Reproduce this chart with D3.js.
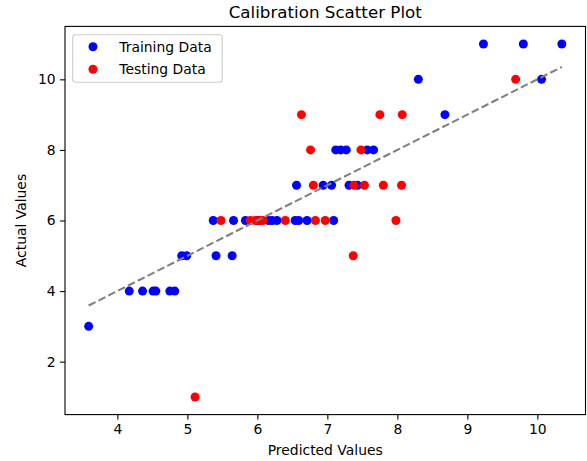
<!DOCTYPE html>
<html>
<head>
<meta charset="utf-8">
<script src="https://cdn.jsdelivr.net/npm/d3@7"></script>
<style>
  body { margin: 0; background: #fff; }
  text { font-family: "DejaVu Sans", sans-serif; fill: #000; }
</style>
</head>
<body>
<div id="chart"></div>
<script>
// training set (blue)
var trainPred = [3.59, 4.17, 4.36, 4.51, 4.55, 4.75, 4.82, 4.92, 4.99, 5.41, 5.64,
	5.37, 5.66, 5.83, 6.00, 6.16, 6.21, 6.28, 6.54, 6.59, 6.71, 7.09,
	6.56, 6.94, 7.06, 7.31, 7.43,
	7.12, 7.19, 7.27, 7.57, 7.66,
	8.68, 8.30, 10.06, 9.23, 9.80, 10.35];
var trainActual = [3, 4, 4, 4, 4, 4, 4, 5, 5, 5, 5,
	6, 6, 6, 6, 6, 6, 6, 6, 6, 6, 6,
	7, 7, 7, 7, 7,
	8, 8, 8, 8, 8,
	9, 10, 10, 11, 11, 11];

// testing set (red)
var testPred = [5.11, 7.37, 5.48, 5.90, 5.97, 6.04, 6.08, 6.40, 6.83, 6.97, 7.98,
	6.80, 7.38, 7.53, 7.80, 8.06, 6.76, 7.48, 6.63, 7.75, 8.07, 9.69];
var testActual = [1, 5, 6, 6, 6, 6, 6, 6, 6, 6, 6,
	7, 7, 7, 7, 7, 8, 8, 9, 9, 9, 10];

var xTicks = [4, 5, 6, 7, 8, 9, 10];
var yTicks = [2, 4, 6, 8, 10];

var width = 587,
	height = 461,
	margin = {left: 65, right: 1.5, top: 26.4, bottom: 46.4};

var dotR = 4.5;

var allPred = trainPred.concat(testPred),
	allActual = trainActual.concat(testActual);

function padded(ext) {
	var m = (ext[1] - ext[0]) * 0.05;
	return [ext[0] - m, ext[1] + m];
}

var x = d3.scaleLinear()
	.domain(padded(d3.extent(allPred)))
	.range([margin.left, width - margin.right]);

var y = d3.scaleLinear()
	.domain(padded(d3.extent(allActual)))
	.range([height - margin.bottom, margin.top]);

var svg = d3.select('#chart').append('svg')
	.attr('width', width)
	.attr('height', height);

// axes
var xAxis = svg.append('g')
	.attr('transform', 'translate(0,' + (height - margin.bottom) + ')')
	.call(d3.axisBottom(x).tickValues(xTicks).tickSize(4.9).tickPadding(4.5).tickFormat(d3.format('d')));

var yAxis = svg.append('g')
	.attr('transform', 'translate(' + margin.left + ',0)')
	.call(d3.axisLeft(y).tickValues(yTicks).tickSize(4.9).tickPadding(4.5).tickFormat(d3.format('d')));

[xAxis, yAxis].forEach(function(a) {
	a.select('.domain').remove();
	a.selectAll('.tick line').attr('stroke', '#000').attr('stroke-width', 1.1);
	a.selectAll('.tick text').style('font-size', '13.9px').style('font-family', '"DejaVu Sans", sans-serif').attr('fill', '#000');
});

// frame
svg.append('rect')
	.attr('x', margin.left)
	.attr('y', margin.top)
	.attr('width', width - margin.left - margin.right)
	.attr('height', height - margin.top - margin.bottom)
	.attr('fill', 'none')
	.attr('stroke', '#000')
	.attr('stroke-width', 1.1);

// points
svg.append('g').selectAll('circle')
	.data(trainPred.map(function(d, i) { return [d, trainActual[i]]; }))
	.enter().append('circle')
	.attr('cx', function(d) { return x(d[0]); })
	.attr('cy', function(d) { return y(d[1]); })
	.attr('r', dotR)
	.attr('fill', '#0000ff');

svg.append('g').selectAll('circle')
	.data(testPred.map(function(d, i) { return [d, testActual[i]]; }))
	.enter().append('circle')
	.attr('cx', function(d) { return x(d[0]); })
	.attr('cy', function(d) { return y(d[1]); })
	.attr('r', dotR)
	.attr('fill', '#ff0000');

// ideal line y = x
var lo = d3.min(allPred), hi = d3.max(allPred);
svg.append('line')
	.attr('x1', x(lo)).attr('y1', y(lo))
	.attr('x2', x(hi)).attr('y2', y(hi))
	.attr('stroke', '#808080')
	.attr('stroke-width', 2.08)
	.attr('stroke-dasharray', '7.7,3.3');

// title and labels
svg.append('text')
	.attr('x', (margin.left + width - margin.right) / 2)
	.attr('y', 18)
	.attr('text-anchor', 'middle')
	.style('font-size', '16.7px')
	.text('Calibration Scatter Plot');

svg.append('text')
	.attr('x', (margin.left + width - margin.right) / 2)
	.attr('y', 455)
	.attr('text-anchor', 'middle')
	.style('font-size', '13.9px')
	.text('Predicted Values');

svg.append('text')
	.attr('transform', 'translate(26,' + (margin.top + height - margin.bottom) / 2 + ') rotate(-90)')
	.attr('text-anchor', 'middle')
	.style('font-size', '13.9px')
	.text('Actual Values');

// legend
var legend = svg.append('g');
legend.append('rect')
	.attr('x', 72.7).attr('y', 34.7)
	.attr('width', 149.6).attr('height', 47.6)
	.attr('rx', 3)
	.attr('fill', '#fff').attr('fill-opacity', 0.8)
	.attr('stroke', '#cccccc').attr('stroke-width', 1.1);

var legendItems = [['Training Data', '#0000ff'], ['Testing Data', '#ff0000']];
legendItems.forEach(function(d, i) {
	var cy = 46.7 + i * 22.6;
	legend.append('circle')
		.attr('cx', 93).attr('cy', cy).attr('r', dotR)
		.attr('fill', d[1]);
	legend.append('text')
		.attr('x', 119.3).attr('y', cy + 5)
		.style('font-size', '13.9px')
		.text(d[0]);
});
</script>
</body>
</html>
